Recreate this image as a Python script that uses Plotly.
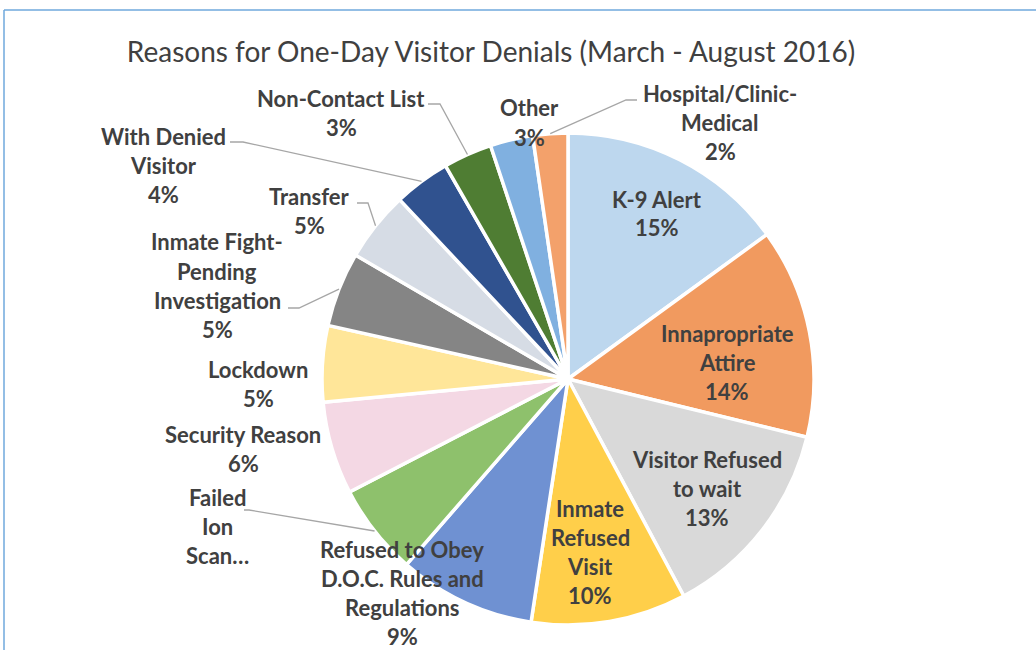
import math
import plotly.graph_objects as go

# ---------------- data ----------------
categories = [
    "K-9 Alert", "Innapropriate Attire", "Visitor Refused to wait", "Inmate Refused Visit",
    "Refused to Obey D.O.C. Rules and Regulations", "Failed Ion Scan", "Security Reason",
    "Lockdown", "Inmate Fight-Pending Investigation", "Transfer", "With Denied Visitor",
    "Non-Contact List", "Other", "Hospital/Clinic-Medical",
]
values = [15.0, 13.8, 13.4, 10.2, 9.0, 6.0, 6.1, 5.0, 4.9, 4.6, 3.7, 3.2, 2.8, 2.3]
label_lines = [
    ["K-9 Alert"], ["Innapropriate", "Attire"], ["Visitor Refused", "to wait"],
    ["Inmate", "Refused", "Visit"], ["Refused to Obey", "D.O.C. Rules and", "Regulations"],
    ["Failed", "Ion", "Scan…"], ["Security Reason"], ["Lockdown"],
    ["Inmate Fight-", "Pending", "Investigation"], ["Transfer"], ["With Denied", "Visitor"],
    ["Non-Contact List"], ["Other"], ["Hospital/Clinic-", "Medical"],
]
show_pct = [True, True, True, True, True, False, True, True, True, True, True, True, True, True]

# ---------------- styling / layout ----------------
W, H = 1036, 650
colors = ["#BDD7EE", "#F19A5F", "#D9D9D9", "#FFCF4A", "#6F91D2", "#8EC16C", "#F4D8E4",
          "#FFE699", "#858585", "#D6DCE5", "#30528F", "#4F7D33", "#80B0E0", "#F3A16B"]
CX, CY, R = 568, 379, 246          # pie centre / radius in pixels
LINE_H = 29
TXT = "#404040"
FONT = "Lato, Carlito, sans-serif"
# centre of first text line of each label (pixels)
label_pos = [(657, 199), (727, 333), (707, 459), (590, 508), (402, 549), (217, 497),
             (243, 434), (258, 369), (217, 242), (309, 196), (163, 136), (341, 98),
             (529, 108), (720, 94)]
# label-side anchor of leader lines (start, elbow) in pixels
leaders = {
    5: [(244, 510), (249, 510)],
    8: [(288, 308), (299, 308)],
    9: [(357, 203), (368, 203)],
    10: [(230, 142), (243, 142)],
    11: [(428, 104), (440, 104)],
    13: [(637, 100), (626, 100)],
}


def px(x):
    return x / W


def py(y):
    return 1 - y / H


fig = go.Figure()
fig.add_trace(go.Pie(
    labels=categories, values=values, sort=False, direction="clockwise", rotation=0,
    marker=dict(colors=colors, line=dict(color="white", width=3.5)),
    textinfo="none", hoverinfo="label+percent",
    domain=dict(x=[px(CX - R), px(CX + R)], y=[py(CY + R), py(CY - R)]),
))

total = sum(values)
annotations = []
for i, lines in enumerate(label_lines):
    pct = round(values[i] / total * 100)
    full = list(lines) + ([f"{pct}%"] if show_pct[i] else [])
    x0, y0 = label_pos[i]
    for k, t in enumerate(full):
        annotations.append(dict(
            x=px(x0), y=py(y0 + k * LINE_H), xref="paper", yref="paper",
            text=t, showarrow=False, xanchor="center", yanchor="middle",
            font=dict(family=FONT, size=22, color=TXT, weight="bold"),
        ))

shapes = []
cum = 0.0
for i, v in enumerate(values):
    mid = (cum + v / 2) / total * 2 * math.pi
    cum += v
    if i in leaders:
        ex, ey = CX + R * math.sin(mid), CY - R * math.cos(mid)
        pts = leaders[i] + [(ex, ey)]
        path = "M " + " L ".join(f"{px(a)},{py(b)}" for a, b in pts)
        shapes.append(dict(type="path", path=path, xref="paper", yref="paper",
                           line=dict(color="#A6A6A6", width=1.3)))

# chart-area border (top and left)
shapes.append(dict(type="line", xref="paper", yref="paper", x0=px(4), x1=1, y0=py(10), y1=py(10),
                   line=dict(color="#6FA8DC", width=1.5)))
shapes.append(dict(type="line", xref="paper", yref="paper", x0=px(4), x1=px(4), y0=py(10), y1=0,
                   line=dict(color="#6FA8DC", width=1.5)))

fig.update_layout(
    width=W, height=H, margin=dict(l=0, r=0, t=0, b=0),
    paper_bgcolor="white", plot_bgcolor="white", showlegend=False,
    title=dict(text="Reasons for One-Day Visitor Denials (March - August 2016)",
               x=px(491), y=py(52), xanchor="center", yanchor="middle",
               font=dict(family=FONT, size=28, color=TXT)),
    annotations=annotations, shapes=shapes,
)

fig.write_html("out.html", config={"displayModeBar": False},
               post_script="document.body.style.margin='0';document.body.style.overflow='hidden';")
